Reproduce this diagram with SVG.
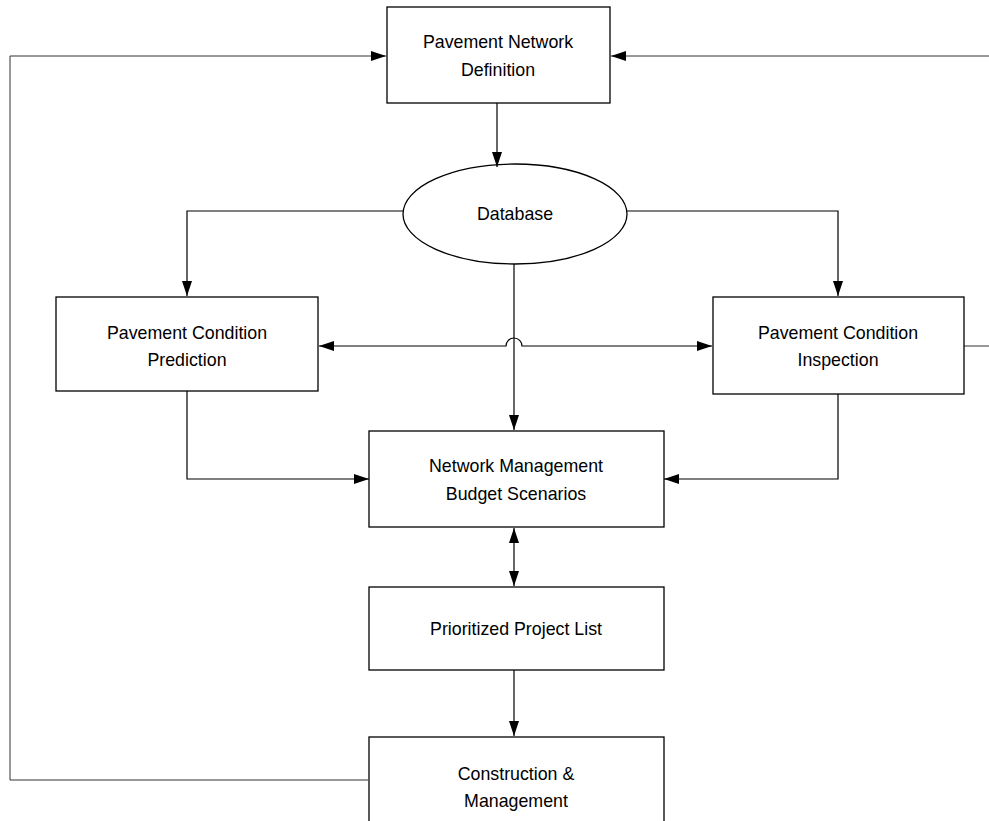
<svg xmlns="http://www.w3.org/2000/svg" width="989" height="821" viewBox="0 0 989 821">
  <style>
    .box { fill: #fff; stroke: #000; stroke-width: 1.3; }
    .lbl { font-family: "Liberation Sans", Arial, sans-serif; font-size: 17.8px; fill: #000; text-anchor: middle; }
    .wire { fill: none; stroke: #000; stroke-width: 1.2; }
    .thin { fill: none; stroke: #333; stroke-width: 1; }
  </style>
  <defs>
    <marker id="arrow" viewBox="0 0 15 10" refX="15" refY="5" markerWidth="15" markerHeight="10" markerUnits="userSpaceOnUse" orient="auto-start-reverse">
      <path d="M0,0 L15,5 L0,10 Z" fill="#000"/>
    </marker>
  </defs>

  <g id="database">
    <ellipse class="box" cx="515" cy="214" rx="112" ry="50"/>
    <text class="lbl" x="515" y="220">Database</text>
  </g>

  <g id="connectors">
    <!-- top box to database -->
    <line class="wire" x1="497" y1="103" x2="497" y2="167" marker-end="url(#arrow)"/>
    <!-- database to side boxes -->
    <polyline class="wire" points="403,211 187,211 187,296" marker-end="url(#arrow)"/>
    <polyline class="wire" points="627,211 838,211 838,296" marker-end="url(#arrow)"/>
    <!-- database to network management, with the cross line hopping over it -->
    <line class="wire" x1="514" y1="264" x2="514" y2="430" marker-end="url(#arrow)"/>
    <path class="wire" d="M319,346 L506,346 A8,8 0 0 1 522,346 L712,346" marker-start="url(#arrow)" marker-end="url(#arrow)"/>
    <!-- side boxes into network management -->
    <polyline class="wire" points="187,391 187,479 369,479" marker-end="url(#arrow)"/>
    <polyline class="wire" points="838,394 838,479 664,479" marker-end="url(#arrow)"/>
    <!-- network management <-> project list -->
    <line class="wire" x1="514" y1="528" x2="514" y2="586" marker-start="url(#arrow)" marker-end="url(#arrow)"/>
    <!-- project list to construction -->
    <line class="wire" x1="514" y1="670" x2="514" y2="736" marker-end="url(#arrow)"/>
    <!-- feedback loops -->
    <polyline class="thin" points="368,780 10,780 10,56 386,56" marker-end="url(#arrow)"/>
    <line class="thin" x1="989" y1="56" x2="611" y2="56" marker-end="url(#arrow)"/>
    <line class="thin" x1="964" y1="346" x2="989" y2="346"/>
  </g>

  <g id="network-definition">
    <rect class="box" x="387" y="7" width="223" height="96"/>
    <text class="lbl" x="498" y="48">Pavement Network</text>
    <text class="lbl" x="498" y="76">Definition</text>
  </g>

  <g id="condition-prediction">
    <rect class="box" x="56" y="297" width="262" height="94"/>
    <text class="lbl" x="187" y="339">Pavement Condition</text>
    <text class="lbl" x="187" y="366">Prediction</text>
  </g>

  <g id="condition-inspection">
    <rect class="box" x="713" y="297" width="251" height="97"/>
    <text class="lbl" x="838" y="339">Pavement Condition</text>
    <text class="lbl" x="838" y="366">Inspection</text>
  </g>

  <g id="budget-scenarios">
    <rect class="box" x="369" y="431" width="295" height="96"/>
    <text class="lbl" x="516" y="472">Network Management</text>
    <text class="lbl" x="516" y="500">Budget Scenarios</text>
  </g>

  <g id="project-list">
    <rect class="box" x="369" y="587" width="295" height="83"/>
    <text class="lbl" x="516" y="635">Prioritized Project List</text>
  </g>

  <g id="construction">
    <rect class="box" x="369" y="737" width="295" height="100"/>
    <text class="lbl" x="516" y="780">Construction &amp;</text>
    <text class="lbl" x="516" y="807">Management</text>
  </g>
</svg>
